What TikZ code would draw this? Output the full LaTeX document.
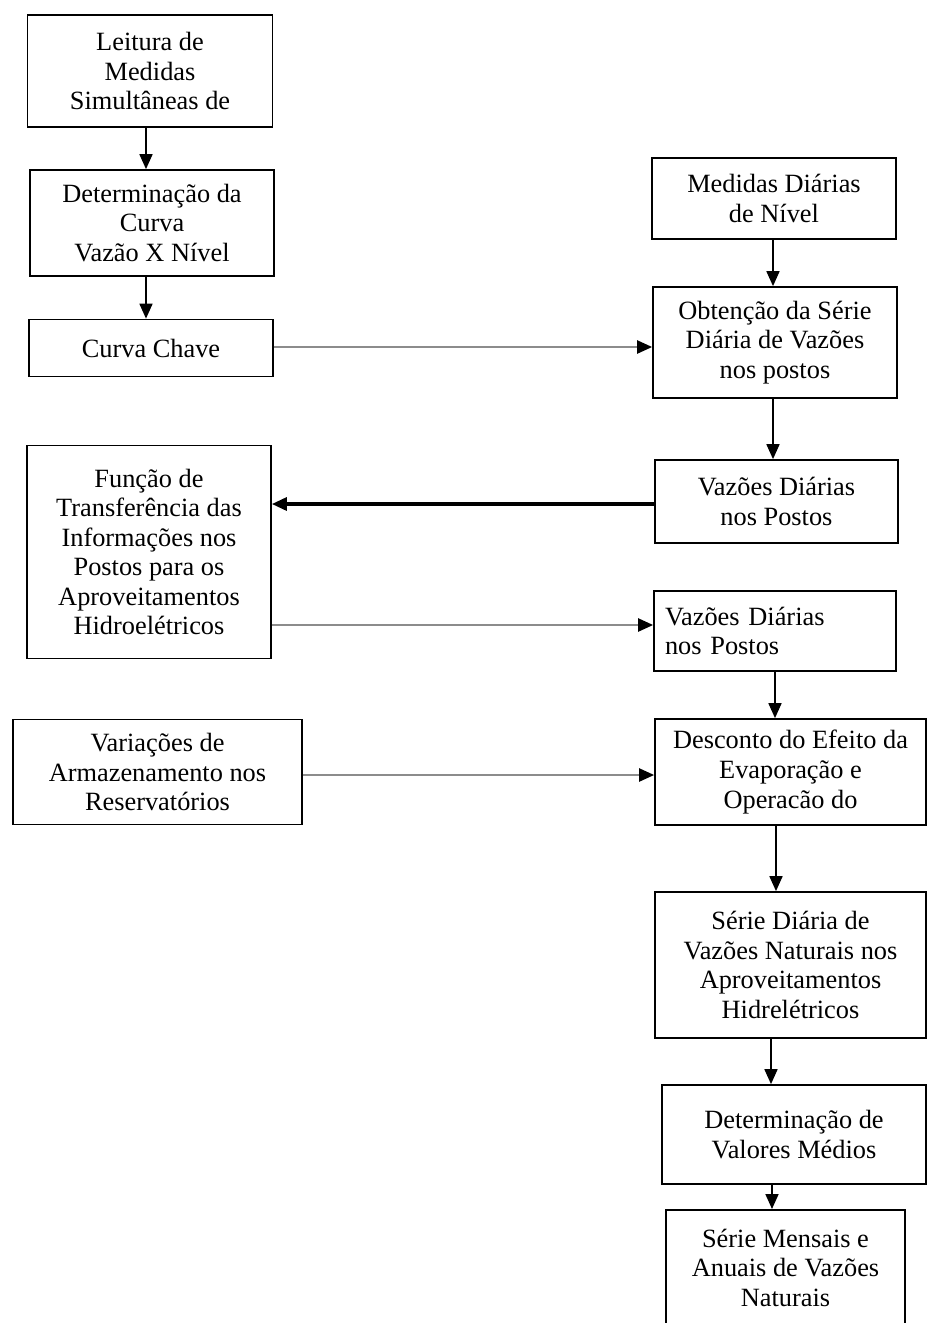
\documentclass[tikz,border=0pt]{standalone}
\usepackage{fontspec}
\setmainfont{Liberation Serif}
\usetikzlibrary{arrows.meta}

\begin{document}
\begin{tikzpicture}[x=0.02cm, y=-0.02cm, >={Triangle[width=0.26cm, length=0.3cm]},
          box/.style={draw, rectangle, line width=1pt, align=center, inner sep=2pt,
                      font=\fontsize{15}{16.8}\selectfont},
          seta/.style={->, line width=1pt},
          setacinza/.style={-{Triangle[width=0.26cm, length=0.3cm, color=black]}, line width=1.3pt, draw=black!45}
        ]
        \useasboundingbox (0,0) rectangle (928,1323);
        % coluna da esquerda
        \node[box, minimum width=4.9cm, minimum height=2.24cm] (leitura) at (150,71)
             {Leitura de\\ Medidas\\ Simultâneas de};
        \node[box, minimum width=4.88cm, minimum height=2.12cm] (curva) at (152,223)
             {Determinação da\\ Curva\\ Vazão X Nível};
        \node[box, minimum width=4.88cm, minimum height=1.14cm] (chave) at (151,348)
             {Curva Chave};
        \node[box, minimum width=4.88cm, minimum height=4.26cm] (funcao) at (149,552)
             {Função de\\ Transferência das\\ Informações nos\\ Postos para os\\ Aproveitamentos\\ Hidroelétricos};
        \node[box, minimum width=5.78cm, minimum height=2.1cm] (variacoes) at (157.5,772)
             {Variações de\\ Armazenamento nos\\ Reservatórios};

        % coluna da direita
        \node[box, minimum width=4.88cm, minimum height=1.62cm] (medidas) at (774,198.5)
             {Medidas Diárias\\ de Nível};
        \node[box, minimum width=4.88cm, minimum height=2.22cm] (obtencao) at (775,342.5)
             {Obtenção da Série\\ Diária de Vazões\\ nos postos};
        \node[box, minimum width=4.86cm, minimum height=1.66cm] (vazoes) at (776.5,501.5)
             {Vazões Diárias\\ nos Postos};
        \node[box, minimum width=4.84cm, minimum height=1.6cm, text width=4.4cm, align=left] (vazoesb) at (775,631)
             {Vazões Diárias\\ nos Postos};
        \node[box, minimum width=5.42cm, minimum height=2.12cm] (desconto) at (790.5,772)
             {Desconto do Efeito da\\ Evaporação e\\ Operacão do};
        \node[box, minimum width=5.42cm, minimum height=2.92cm] (serie) at (790.5,965)
             {Série Diária de\\ Vazões Naturais nos\\ Aproveitamentos\\ Hidrelétricos};
        \node[box, minimum width=5.28cm, minimum height=1.98cm] (medios) at (794,1134.5)
             {Determinação de\\ Valores Médios};
        \node[box, minimum width=4.78cm, minimum height=2.32cm, anchor=north] (mensais) at (785.5,1209)
             {Série Mensais e\\ Anuais de Vazões\\ Naturais};

        % ligacoes
        \draw[seta] (leitura.south -| 146,0) -- (curva.north -| 146,0);
        \draw[seta] (curva.south -| 146,0) -- (chave.north -| 146,0);
        \draw[seta] (medidas.south -| 773,0) -- (obtencao.north -| 773,0);
        \draw[seta] (obtencao.south -| 773,0) -- (vazoes.north -| 773,0);
        \draw[seta] (vazoesb.south -| 775,0) -- (desconto.north -| 775,0);
        \draw[seta] (desconto.south -| 776,0) -- (serie.north -| 776,0);
        \draw[seta] (serie.south -| 771,0) -- (medios.north -| 771,0);
        \draw[seta] (medios.south -| 772,0) -- (mensais.north -| 772,0);

        \draw[setacinza] (chave.east |- 0,347) -- (obtencao.west |- 0,347);
        \draw[->, line width=1.8pt] (vazoes.west |- 0,504) -- (funcao.east |- 0,504);
        \draw[setacinza] (funcao.east |- 0,625) -- (vazoesb.west |- 0,625);
        \draw[setacinza] (variacoes.east |- 0,775) -- (desconto.west |- 0,775);
\end{tikzpicture}
\end{document}
